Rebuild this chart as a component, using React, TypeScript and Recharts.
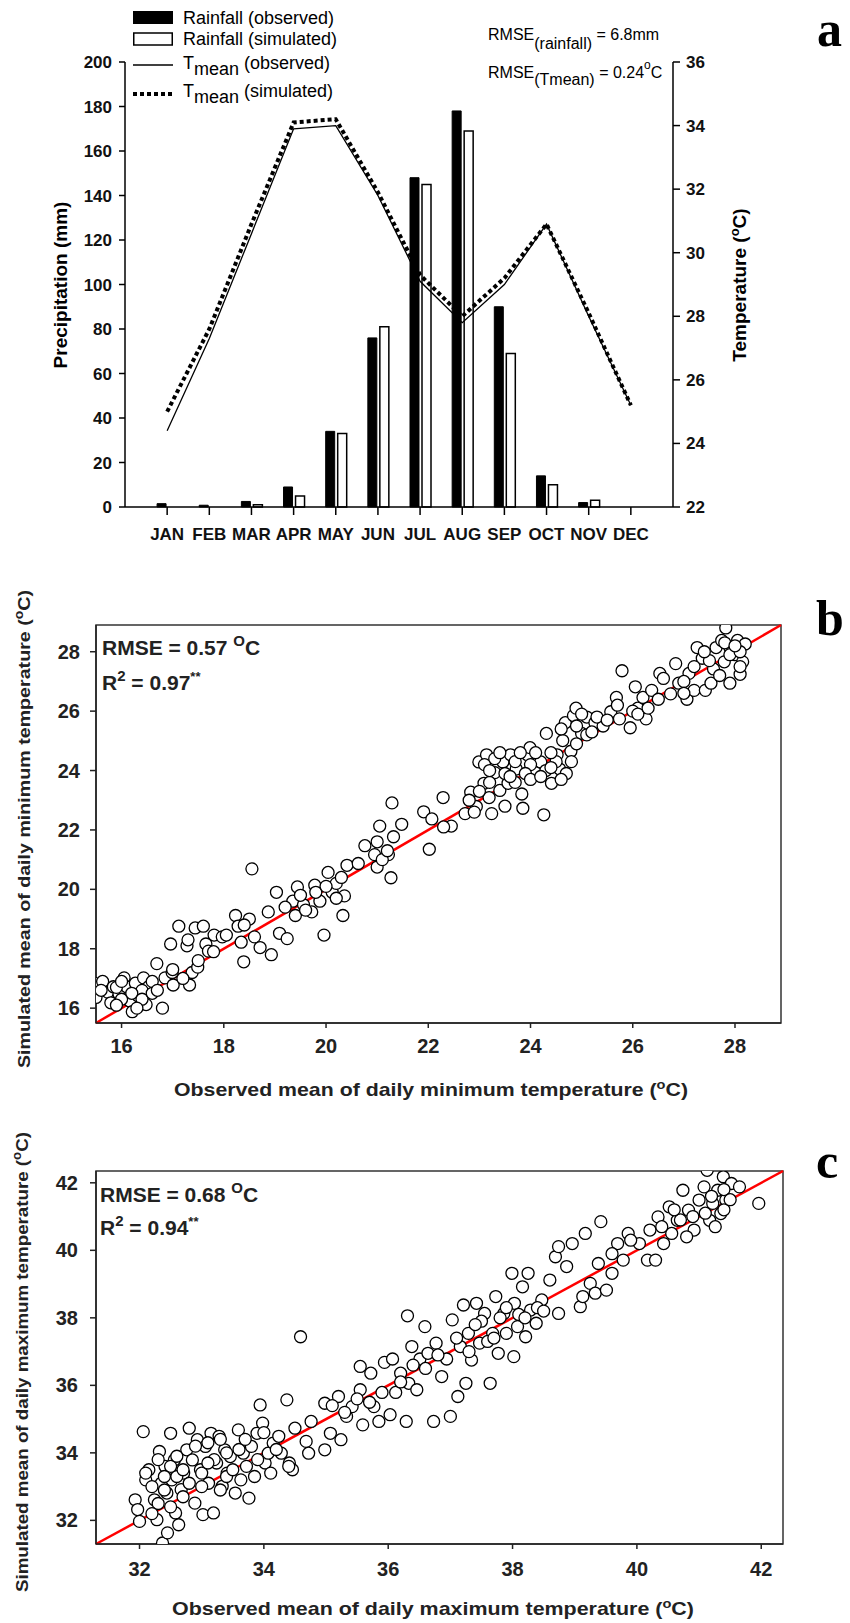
import React from "react";
import {
  ComposedChart,
  Bar,
  Line,
  XAxis,
  YAxis,
  ScatterChart,
  Scatter,
  ReferenceLine,
  ReferenceArea,
} from "recharts";

// ---- panel a: monthly rainfall and mean temperature ----
const monthNames = ["JAN", "FEB", "MAR", "APR", "MAY", "JUN", "JUL", "AUG", "SEP", "OCT", "NOV", "DEC"];
const rainObserved = [1.5, 0.8, 2.5, 9, 34, 76, 148, 178, 90, 14, 2, 0];
const rainSimulated = [0, 0, 1, 5, 33, 81, 145, 169, 69, 10, 3, 0];
const tMeanObserved = [24.4, 27.3, 30.6, 33.9, 34.0, 31.8, 29.1, 27.8, 29.0, 30.9, 28.0, 25.2];
const tMeanSimulated = [25.0, 27.6, 30.9, 34.1, 34.2, 31.9, 29.3, 28.0, 29.2, 30.9, 28.1, 25.2];
const precipTicks = [0, 20, 40, 60, 80, 100, 120, 140, 160, 180, 200];
const tempTicks = [22, 24, 26, 28, 30, 32, 34, 36];

// ---- panel b: daily minimum temperature ----
const tminObserved = [
  15.47, 15.5, 15.63, 15.73, 15.84, 15.79, 15.95, 16.05, 16.1, 16.16, 16.21, 16.27, 16.32, 16.43, 16.48, 16.53,
  16.69, 16.8, 16.85, 16.99, 17.01, 16.96, 17.12, 17.28, 17.33, 17.38, 17.44, 17.49, 17.6, 17.65, 17.7, 17.81,
  17.97, 18.05, 18.23, 18.28, 18.34, 18.39, 18.5, 18.55, 18.6, 18.71, 18.87, 18.93, 19.03, 19.09, 19.24, 19.35,
  19.44, 19.4, 19.56, 19.72, 19.78, 19.88, 19.96, 20.04, 20.12, 20.2, 20.33, 20.36, 20.41, 20.63, 20.76, 20.95,
  21.0, 21.05, 21.22, 21.27, 21.29, 21.32, 21.48, 21.91, 22.02, 22.07, 22.29, 22.45, 22.72, 22.83, 22.94, 22.99,
  23.09, 23.14, 23.19, 23.24, 23.3, 23.4, 23.46, 23.56, 23.61, 23.72, 23.83, 23.85, 23.94, 23.99, 24.1, 24.2,
  24.26, 24.31, 24.41, 24.52, 24.57, 24.63, 24.68, 24.79, 24.84, 24.89, 25.0, 25.1, 25.26, 25.42, 25.57, 25.68,
  25.74, 25.79, 25.95, 26.05, 26.1, 26.2, 26.26, 26.37, 26.53, 26.74, 26.84, 26.9, 27.06, 27.1, 27.2, 27.26,
  27.36, 27.42, 27.53, 27.58, 27.63, 27.74, 27.79, 27.82, 27.9, 28.0, 28.05, 28.1, 28.15, 28.2, 27.9,
  23.3, 23.5, 23.7, 24.0, 24.3, 24.5, 24.7, 24.9, 25.1, 24.4, 23.2, 23.0, 22.8, 24.6, 25.3, 16.4, 16.6, 16.0,
  15.9, 17.2, 17.5, 17.8, 19.6, 19.8, 20.0, 20.2, 21.1, 21.2, 26.0, 26.5, 27.0, 27.5, 27.9, 28.1, 23.9, 23.6,
  15.6, 16.0, 16.2, 16.4, 16.6, 15.9,
  23.1, 23.2, 23.4, 23.5, 23.7, 23.8, 24.0, 24.1, 24.2, 24.4, 24.6, 24.8, 24.9, 25.0, 25.2, 25.5, 25.7, 26.1,
  26.3, 26.6, 27.0, 27.2, 27.4, 27.7, 27.8, 28.0, 28.1, 17.0, 17.3, 16.7, 16.3, 18.4, 19.2, 19.5, 20.3, 21.0,
  22.3, 22.9,
];
const tminSimulated = [
  16.84, 16.36, 16.9, 16.54, 16.72, 16.18, 16.48, 17.02, 16.72, 16.24, 15.88, 16.84, 16.42, 17.02, 16.12, 16.72,
  17.5, 16.0, 17.02, 17.2, 16.78, 18.16, 18.76, 18.1, 16.78, 17.2, 18.7, 17.38, 18.76, 18.16, 17.92, 18.46,
  18.4, 18.46, 19.12, 18.76, 18.22, 17.56, 19.0, 20.69, 18.4, 18.04, 19.24, 17.8, 19.9, 18.52, 18.34, 19.6,
  20.08, 19.12, 19.48, 19.24, 20.14, 19.6, 18.46, 20.57, 19.9, 20.2, 19.12, 19.78, 20.81, 20.87, 21.47, 21.17,
  20.75, 22.13, 21.17, 20.39, 22.91, 21.77, 22.19, 22.61, 21.35, 22.37, 23.09, 22.13, 22.55, 23.27, 22.79, 24.29,
  23.57, 24.53, 23.09, 22.55, 23.93, 23.33, 24.29, 23.57, 24.53, 24.05, 23.21, 22.73, 24.53, 24.77, 23.93, 24.29,
  22.51, 25.25, 23.57, 24.53, 24.05, 25.01, 25.61, 24.65, 25.85, 26.1, 25.25, 25.8, 25.61, 25.5, 25.98, 26.46,
  25.74, 27.36, 25.44, 26.82, 26.1, 26.46, 25.74, 26.7, 27.27, 26.58, 27.6, 26.94, 26.4, 27.27, 26.7, 28.14,
  27.78, 26.7, 26.94, 27.42, 28.14, 28.38, 27.66, 28.8, 28.14, 27.9, 28.38, 27.24, 27.66, 28.26, 26.94,
  24.4, 23.9, 23.6, 24.2, 24.0, 24.3, 23.9, 24.9, 25.2, 24.6, 23.6, 23.3, 23.0, 25.4, 25.8, 16.6, 16.9, 16.3,
  16.7, 17.0, 17.6, 17.9, 19.3, 19.9, 20.1, 19.7, 21.0, 21.3, 26.0, 26.4, 27.0, 27.7, 27.9, 28.0, 23.9, 23.8,
  16.6, 16.9, 16.5, 16.3, 16.5, 16.1,
  24.2, 24.0, 24.6, 22.8, 24.3, 24.6, 23.7, 24.6, 23.8, 24.1, 23.7, 24.3, 25.5, 25.9, 25.3, 25.7, 26.2, 25.9,
  26.1, 27.1, 26.6, 27.5, 28.0, 27.2, 28.3, 28.2, 27.5, 17.3, 18.3, 16.6, 16.0, 18.8, 19.4, 19.8, 20.4, 21.6,
  22.1, 22.6,
];
const tminTicks = [16, 18, 20, 22, 24, 26, 28];

// ---- panel c: daily maximum temperature ----
const tmaxObserved = [
  31.93, 31.97, 32.0, 32.06, 32.1, 32.15, 32.24, 32.28, 32.32, 32.35, 32.41, 32.37, 32.44, 32.45, 32.5, 32.52,
  32.56, 32.58, 32.63, 32.67, 32.71, 32.76, 32.8, 32.85, 32.89, 32.93, 32.98, 33.02, 33.06, 33.11, 33.15, 33.19,
  33.24, 33.28, 33.33, 33.37, 33.41, 33.46, 33.54, 33.59, 33.63, 33.67, 33.72, 33.76, 33.8, 33.85, 33.89, 33.94,
  33.98, 34.02, 34.07, 34.11, 34.15, 34.24, 34.28, 34.37, 34.41, 34.46, 34.5, 34.59, 34.68, 34.72, 34.76, 34.98,
  34.98, 35.07, 35.2, 35.24, 35.33, 35.42, 35.55, 35.55, 35.59, 35.72, 35.77, 35.85, 35.9, 35.94, 36.03, 36.07,
  36.12, 36.2, 36.29, 36.31, 36.33, 36.38, 36.46, 36.51, 36.59, 36.64, 36.73, 36.77, 36.86, 36.94, 37.0, 37.03,
  37.12, 37.16, 37.21, 37.25, 37.29, 37.34, 37.42, 37.47, 37.55, 37.64, 37.68, 37.73, 37.77, 37.86, 37.9, 37.99,
  38.02, 38.03, 38.08, 38.16, 38.21, 38.25, 38.29, 38.38, 38.47, 38.6, 38.69, 38.74, 38.74, 38.87, 38.96, 39.09,
  39.13, 39.17, 39.25, 39.33, 39.38, 39.42, 39.51, 39.6, 39.69, 39.78, 39.86, 40.04, 40.17, 40.21, 40.3, 40.34,
  40.43, 40.52, 40.56, 40.65, 40.74, 40.83, 40.92, 41.0, 41.08, 41.13, 41.17, 41.22, 41.26, 41.3, 41.35, 41.39,
  41.43, 41.52, 41.65, 41.96,
  32.2, 32.4, 32.6, 32.3, 32.5, 32.7, 33.0, 33.2, 33.4, 33.6, 33.1, 33.3, 37.5, 37.8, 38.1, 37.3, 37.6, 38.4,
  40.9, 41.2, 41.4, 40.7, 36.6, 36.4, 35.5, 35.3,
  32.1, 32.2, 32.3, 32.4, 32.5, 32.6, 32.7, 32.8, 32.9, 33.0, 33.1, 33.3, 33.4, 33.5, 33.7, 33.9, 34.0, 34.2,
  34.4, 36.8, 37.1, 37.4, 37.7, 37.9, 38.2, 38.5, 39.6, 39.9, 40.4, 40.6, 40.8, 41.1, 41.4, 41.5, 35.1, 35.7,
  36.2,
];
const tmaxSimulated = [
  32.61, 32.32, 31.97, 34.63, 33.2, 33.5, 32.61, 32.02, 34.04, 33.1, 33.6, 31.33, 32.81, 31.63, 34.58, 33.2,
  33.79, 32.22, 31.87, 32.91, 33.4, 34.09, 34.73, 33.79, 32.51, 34.39, 33.5, 32.17, 34.19, 33.1, 34.58, 32.22,
  33.7, 34.49, 33.01, 34.09, 33.4, 33.89, 32.81, 34.68, 33.2, 33.99, 33.6, 32.66, 34.19, 33.3, 34.58, 35.42,
  34.88, 33.7, 33.99, 33.4, 34.29, 34.49, 33.99, 35.57, 33.7, 33.5, 34.73, 37.44, 34.34, 33.99, 34.93, 34.09,
  35.47, 34.58, 35.67, 34.39, 35.08, 35.37, 35.87, 36.56, 34.83, 36.36, 35.37, 34.93, 35.79, 36.68, 35.13, 36.78,
  35.79, 36.36, 34.93, 38.06, 36.06, 37.15, 35.87, 36.78, 37.74, 36.95, 34.93, 37.25, 36.26, 36.78, 35.08, 37.94,
  35.67, 37.15, 38.38, 36.06, 37.54, 36.75, 38.43, 37.25, 38.13, 36.06, 37.54, 38.63, 36.95, 38.13, 37.54, 39.32,
  36.85, 38.43, 37.74, 38.92, 37.44, 39.32, 38.23, 37.84, 38.53, 39.12, 39.81, 38.13, 40.11, 39.52, 40.2, 38.33,
  38.63, 40.5, 39.02, 38.73, 39.61, 40.85, 38.82, 39.32, 40.2, 39.71, 40.5, 40.2, 39.71, 40.6, 39.71, 40.99,
  40.2, 41.29, 40.5, 40.89, 41.78, 41.19, 40.6, 41.49, 41.88, 42.37, 40.89, 41.39, 40.7, 41.78, 41.09, 42.18,
  41.49, 41.98, 41.88, 41.39,
  33.0, 32.9, 33.3, 32.5, 33.6, 32.7, 33.4, 33.8, 33.3, 34.1, 34.3, 34.4, 37.9, 38.0, 38.1, 37.0, 37.3, 38.3,
  41.0, 41.6, 41.2, 40.9, 36.5, 36.6, 35.6, 35.2,
  33.4, 32.2, 33.8, 33.3, 32.4, 33.9, 33.5, 33.1, 34.2, 33.0, 33.7, 32.9, 34.0, 33.5, 34.4, 33.8, 34.6, 34.1,
  33.6, 36.9, 37.4, 37.8, 37.4, 38.3, 38.0, 38.2, 39.9, 40.3, 40.7, 41.2, 40.4, 41.1, 41.8, 41.5, 35.4, 35.5,
  36.1,
];
const tmaxTicks = [32, 34, 36, 38, 40, 42];

const monthly = monthNames.map((name, i) => ({
  m: i + 1,
  name,
  rainObs: rainObserved[i],
  rainSim: rainSimulated[i],
  tObs: tMeanObserved[i],
  tSim: tMeanSimulated[i],
}));
const minData = tminObserved.map((x, i) => ({ x, y: tminSimulated[i] }));
const maxData = tmaxObserved.map((x, i) => ({ x, y: tmaxSimulated[i] }));

const SANS = "'Liberation Sans', Arial, sans-serif";
const SERIF = "'Liberation Serif', 'Times New Roman', serif";

const tickA = { fontSize: 17, fontWeight: "bold", fill: "#111", fontFamily: SANS };
const tickB = { fontSize: 20, fontWeight: "bold", fill: "#222", fontFamily: SANS };

const OpenCircle = (props: any) => (
  <circle cx={props.cx} cy={props.cy} r={6} fill="#fff" stroke="#000" strokeWidth={1.3} />
);

const Overlay = () => (
  <svg
    width={850}
    height={1623}
    style={{ position: "absolute", left: 0, top: 0, pointerEvents: "none" }}
    fontFamily={SANS}
  >
    {/* legend, panel a */}
    <rect x={133} y={11} width={40} height={13} fill="#000" />
    <rect x={133.75} y={33} width={38.5} height={12} fill="#fff" stroke="#000" strokeWidth={1.5} />
    <line x1={133} x2={173} y1={65} y2={65} stroke="#000" strokeWidth={1.5} />
    <line x1={133} x2={173} y1={94} y2={94} stroke="#000" strokeWidth={4} strokeDasharray="4 3" />
    <g fontSize={18} fill="#000">
      <text x={183} y={24}>Rainfall (observed)</text>
      <text x={183} y={45}>Rainfall (simulated)</text>
      <text x={183} y={69}>
        T<tspan dy={6}>mean</tspan>
        <tspan dy={-6}> (observed)</tspan>
      </text>
      <text x={183} y={97}>
        T<tspan dy={6}>mean</tspan>
        <tspan dy={-6}> (simulated)</tspan>
      </text>
    </g>
    <g fontSize={16} fill="#000">
      <text x={488} y={40}>
        RMSE<tspan dy={9}>(rainfall)</tspan>
        <tspan dy={-9}> = 6.8mm</tspan>
      </text>
      <text x={488} y={78}>
        RMSE<tspan dy={7}>(Tmean)</tspan>
        <tspan dy={-7}> = 0.24</tspan>
        <tspan dy={-9} fontSize={12}>o</tspan>
        <tspan dy={9}>C</tspan>
      </text>
    </g>
    <text x={67} y={285} transform="rotate(-90 67 285)" textAnchor="middle" fontSize={19} fontWeight="bold">
      Precipitation (mm)
    </text>
    <text x={746} y={285} transform="rotate(-90 746 285)" textAnchor="middle" fontSize={19} fontWeight="bold">
      Temperature (<tspan dy={-7} fontSize={13}>o</tspan>
      <tspan dy={7}>C)</tspan>
    </text>

    {/* panel b */}
    <g fontSize={21} fontWeight="bold" fill="#222">
      <text x={102} y={655}>
        RMSE = 0.57 <tspan dy={-9} fontSize={15}>O</tspan>
        <tspan dy={9}>C</tspan>
      </text>
      <text x={102} y={690}>
        R<tspan dy={-9} fontSize={15}>2</tspan>
        <tspan dy={9}> = 0.97</tspan>
        <tspan dy={-9} fontSize={13}>**</tspan>
      </text>
    </g>
    <text x={30} y={829} transform="rotate(-90 30 829)" textAnchor="middle" fontSize={17} fontWeight="bold" fill="#222"
      textLength={478} lengthAdjust="spacingAndGlyphs">
      Simulated mean of daily minimum temperature (<tspan dy={-7} fontSize={12}>o</tspan>
      <tspan dy={7}>C)</tspan>
    </text>
    <text x={431} y={1096} textAnchor="middle" fontSize={19} fontWeight="bold" fill="#222"
      textLength={514} lengthAdjust="spacingAndGlyphs">
      Observed mean of daily minimum temperature (<tspan dy={-7} fontSize={13}>o</tspan>
      <tspan dy={7}>C)</tspan>
    </text>

    {/* panel c */}
    <g fontSize={21} fontWeight="bold" fill="#222">
      <text x={100} y={1202}>
        RMSE = 0.68 <tspan dy={-9} fontSize={15}>O</tspan>
        <tspan dy={9}>C</tspan>
      </text>
      <text x={100} y={1235}>
        R<tspan dy={-9} fontSize={15}>2</tspan>
        <tspan dy={9}> = 0.94</tspan>
        <tspan dy={-9} fontSize={13}>**</tspan>
      </text>
    </g>
    <text x={28} y={1362} transform="rotate(-90 28 1362)" textAnchor="middle" fontSize={17} fontWeight="bold" fill="#222"
      textLength={460} lengthAdjust="spacingAndGlyphs">
      Simulated mean of daily maximum temperature (<tspan dy={-7} fontSize={12}>o</tspan>
      <tspan dy={7}>C)</tspan>
    </text>
    <text x={433} y={1615} textAnchor="middle" fontSize={19} fontWeight="bold" fill="#222"
      textLength={522} lengthAdjust="spacingAndGlyphs">
      Observed mean of daily maximum temperature (<tspan dy={-7} fontSize={13}>o</tspan>
      <tspan dy={7}>C)</tspan>
    </text>

    {/* panel letters */}
    <g fontFamily={SERIF} fontWeight="bold" fontSize={50} fill="#000">
      <text x={817} y={46}>a</text>
      <text x={816} y={635}>b</text>
      <text x={816} y={1178}>c</text>
    </g>
  </svg>
);

const App = () => (
  <div style={{ position: "absolute", left: 0, top: 0, width: 850, height: 1623, background: "#fff" }}>
    <div style={{ position: "absolute", left: 0, top: 0 }}>
      <ComposedChart width={850} height={560} data={monthly} margin={{ top: 62, right: 0, bottom: 0, left: 0 }} barGap={3}>
        <XAxis
          dataKey="m"
          type="number"
          domain={[0, 13]}
          ticks={[1, 2, 3, 4, 5, 6, 7, 8, 9, 10, 11, 12]}
          tickFormatter={(v: number) => monthNames[v - 1]}
          height={53}
          tickSize={8}
          tickMargin={13}
          axisLine={{ stroke: "#000", strokeWidth: 1.5 }}
          tickLine={{ stroke: "#000", strokeWidth: 1.5 }}
          tick={tickA}
          interval={0}
        />
        <YAxis
          yAxisId="p"
          domain={[0, 200]}
          ticks={precipTicks}
          width={125}
          tickSize={6}
          tickMargin={7}
          axisLine={{ stroke: "#000", strokeWidth: 1.5 }}
          tickLine={{ stroke: "#000", strokeWidth: 1.5 }}
          tick={tickA}
        />
        <YAxis
          yAxisId="t"
          orientation="right"
          domain={[22, 36]}
          ticks={tempTicks}
          width={177}
          tickSize={7}
          tickMargin={6}
          axisLine={{ stroke: "#000", strokeWidth: 1.5 }}
          tickLine={{ stroke: "#000", strokeWidth: 1.5 }}
          tick={tickA}
        />
        <Bar yAxisId="p" dataKey="rainObs" barSize={9} fill="#000" stroke="#000" isAnimationActive={false} />
        <Bar yAxisId="p" dataKey="rainSim" barSize={9} fill="#fff" stroke="#000" strokeWidth={1.5} isAnimationActive={false} />
        <Line yAxisId="t" dataKey="tObs" type="linear" stroke="#000" strokeWidth={1.3} dot={false} isAnimationActive={false} />
        <Line
          yAxisId="t"
          dataKey="tSim"
          type="linear"
          stroke="#000"
          strokeWidth={4}
          strokeDasharray="4 3"
          dot={false}
          isAnimationActive={false}
        />
      </ComposedChart>
    </div>

    <div style={{ position: "absolute", left: 0, top: 560 }}>
      <ScatterChart width={850} height={520} margin={{ top: 65, right: 69, bottom: 0, left: 0 }}>
        <XAxis
          dataKey="x"
          type="number"
          domain={[15.5, 28.9]}
          ticks={tminTicks}
          allowDataOverflow
          height={57}
          tickSize={5}
          tickMargin={11}
          axisLine={{ stroke: "#222", strokeWidth: 1.5 }}
          tickLine={{ stroke: "#222", strokeWidth: 1.5 }}
          tick={tickB}
        />
        <YAxis
          dataKey="y"
          type="number"
          domain={[15.5, 28.9]}
          ticks={tminTicks}
          allowDataOverflow
          width={96}
          tickSize={6}
          tickMargin={10}
          axisLine={{ stroke: "#222", strokeWidth: 1.5 }}
          tickLine={{ stroke: "#222", strokeWidth: 1.5 }}
          tick={tickB}
        />
        <ReferenceArea x1={15.5} x2={28.9} y1={15.5} y2={28.9} fill="none" stroke="#333" strokeWidth={1.5} />
        <Scatter data={minData} shape={OpenCircle} isAnimationActive={false} />
        <ReferenceLine
          segment={[
            { x: 15.5, y: 15.5 },
            { x: 28.9, y: 28.9 },
          ]}
          stroke="#ff0000"
          strokeWidth={2.5}
        />
      </ScatterChart>
    </div>

    <div style={{ position: "absolute", left: 0, top: 1110 }}>
      <ScatterChart width={850} height={490} margin={{ top: 61, right: 67, bottom: 0, left: 0 }}>
        <XAxis
          dataKey="x"
          type="number"
          domain={[31.3, 42.35]}
          ticks={tmaxTicks}
          allowDataOverflow
          height={56}
          tickSize={5}
          tickMargin={13}
          axisLine={{ stroke: "#222", strokeWidth: 1.5 }}
          tickLine={{ stroke: "#222", strokeWidth: 1.5 }}
          tick={tickB}
        />
        <YAxis
          dataKey="y"
          type="number"
          domain={[31.3, 42.35]}
          ticks={tmaxTicks}
          allowDataOverflow
          width={96}
          tickSize={6}
          tickMargin={12}
          axisLine={{ stroke: "#222", strokeWidth: 1.5 }}
          tickLine={{ stroke: "#222", strokeWidth: 1.5 }}
          tick={tickB}
        />
        <ReferenceArea x1={31.3} x2={42.35} y1={31.3} y2={42.35} fill="none" stroke="#333" strokeWidth={1.5} />
        <Scatter data={maxData} shape={OpenCircle} isAnimationActive={false} />
        <ReferenceLine
          segment={[
            { x: 31.3, y: 31.3 },
            { x: 42.35, y: 42.35 },
          ]}
          stroke="#ff0000"
          strokeWidth={2.5}
        />
      </ScatterChart>
    </div>

    <Overlay />
  </div>
);

export default App;
